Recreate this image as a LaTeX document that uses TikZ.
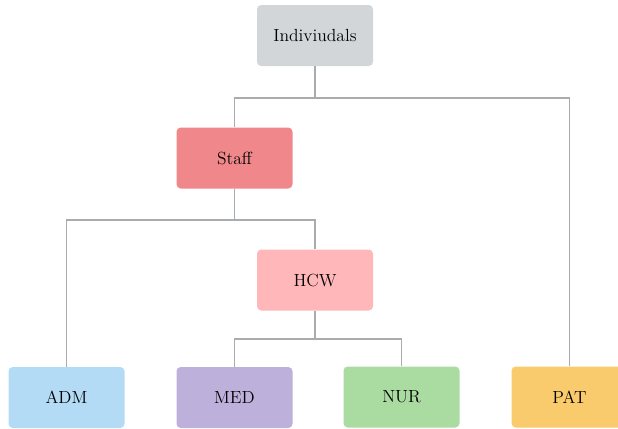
\documentclass[tikz,border=0pt]{standalone}
\usepackage{tikz}
\usetikzlibrary{positioning}
\definecolor{indgray}{HTML}{D3D6D9}
\definecolor{staffred}{HTML}{F0878B}
\definecolor{hcwpink}{HTML}{FFB7BA}
\definecolor{admblue}{HTML}{B3DBF6}
\definecolor{medlilac}{HTML}{BDB0DB}
\definecolor{nurgreen}{HTML}{AADBA1}
\definecolor{patyellow}{HTML}{FACB6C}
\definecolor{wire}{HTML}{A9ACAF}

\begin{document}
\begin{tikzpicture}[
  every node/.style={font=\fontsize{12.5}{15}\selectfont},
  group/.style={
    draw=none, rounded corners=3pt,
    minimum width=2.9cm, minimum height=1.525cm, align=center,
    inner sep=2pt,
  },
  link/.style={draw=wire, line width=1.1pt},
]
  \clip (0,0) rectangle (15.45,-10.7);

  % Top: everybody
  \node[group, fill=indgray]   (ind)   at (7.875, -0.8875)  {Indiviudals};

  % Middle rows
  \node[group, fill=staffred]  (staff) at (5.8625, -3.95)   {Staff};
  \node[group, fill=hcwpink]   (hcw)   at (7.875, -7.0)     {HCW};

  % Bottom row: leaves
  \node[group, fill=admblue]   (adm)   at (1.6625, -9.9375) {ADM};
  \node[group, fill=medlilac]  (med)   at (5.8625, -9.9375) {MED};
  \node[group, fill=nurgreen]  (nur)   at (10.0375, -9.925) {NUR};
  \node[group, fill=patyellow] (pat)   at (14.2375, -9.925) {PAT};

  \draw[link] (ind.south)   -- ++(0,-0.79) -| (staff.north);
  \draw[link] (ind.south)   -- ++(0,-0.79) -| (pat.north);
  \draw[link] (staff.south) -- ++(0,-0.78) -| (adm.north);
  \draw[link] (staff.south) -- ++(0,-0.78) -| (hcw.north);
  \draw[link] (hcw.south)   -- ++(0,-0.70) -| (med.north);
  \draw[link] (hcw.south)   -- ++(0,-0.70) -| (nur.north);
\end{tikzpicture}
\end{document}
